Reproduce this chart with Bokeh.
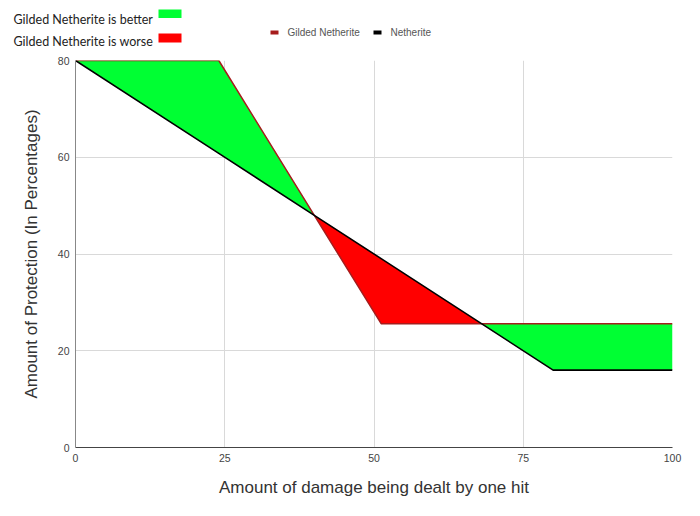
from bokeh.plotting import figure
from bokeh.layouts import column
from bokeh.models import Range1d, FixedTicker
from bokeh.core.properties import value
from bokeh.embed import file_html
from bokeh.resources import INLINE

# ---- data ----
damage = [0, 24, 40, 51.2, 68, 80, 100]
gilded = [80, 80, 48, 25.6, 25.6, 25.6, 25.6]
netherite = [80, 60.8, 48, 39.04, 25.6, 16, 16]
x_ticks = [0, 25, 50, 75, 100]
y_ticks = [0, 20, 40, 60, 80]
series_names = ["Gilded Netherite", "Netherite"]
notes = ["Gilded Netherite is better", "Gilded Netherite is worse"]
x_title = "Amount of damage being dealt by one hit"
y_title = "Amount of Protection (In Percentages)"

GREEN = "#00ff33"
RED = "#ff0000"
GILDED_COL = "#a61c1c"
NETH_COL = "#000000"
FONT = "Liberation Sans"
W = 684

# ---------------- header strip (notes + series key) ----------------
top = figure(width=W, height=52, output_backend="svg", toolbar_location=None,
             x_range=Range1d(0, W), y_range=Range1d(52, 0),
             min_border=0, min_border_left=0, min_border_right=0,
             min_border_top=0, min_border_bottom=0,
             x_axis_location=None, y_axis_location=None, frame_align=False)
top.outline_line_color = None
top.grid.visible = False
top.border_fill_color = "white"

note_y = [18.5, 41]
note_cols = [GREEN, RED]
top.text(x=[13, 13], y=note_y, text=notes, text_font=value("Lato"),
         text_font_size="12.5px", text_color="#222222", text_baseline="alphabetic")
top.quad(left=[158, 158], right=[181, 181], top=[9, 33], bottom=[17.5, 42],
         fill_color=note_cols, line_color=None)

key_x = [270, 373]
key_cols = [GILDED_COL, NETH_COL]
top.quad(left=key_x, right=[k + 8 for k in key_x], top=[30, 30], bottom=[34, 34],
         fill_color=key_cols, line_color=None)
top.text(x=[287, 390], y=[32, 32], text=series_names, text_font=value(FONT),
         text_font_size="10px", text_color="#555555", text_baseline="middle")

# ---------------- main chart ----------------
p = figure(width=W, height=448, output_backend="svg", toolbar_location=None,
           x_range=Range1d(0, 100), y_range=Range1d(0, 80), frame_align=False,
           min_border_left=75, min_border_right=12, min_border_top=8, min_border_bottom=53)
p.outline_line_color = None
p.background_fill_color = "white"
p.border_fill_color = "white"

seg_better1 = slice(0, 3)
seg_worse = slice(2, 5)
seg_better2 = slice(4, 7)
for seg, col in [(seg_better1, GREEN), (seg_worse, RED), (seg_better2, GREEN)]:
    p.varea(x=damage[seg], y1=netherite[seg], y2=gilded[seg], fill_color=col, fill_alpha=1)

p.line(damage, gilded, line_color=GILDED_COL, line_width=1.5)
p.line(damage, netherite, line_color=NETH_COL, line_width=1.6)

for ax in (p.xaxis, p.yaxis):
    ax.major_tick_line_color = None
    ax.minor_tick_line_color = None
    ax.major_tick_out = 0
    ax.major_tick_in = 0
    ax.minor_tick_out = 0
    ax.major_label_text_font = FONT
    ax.major_label_text_font_size = "10.5px"
    ax.major_label_text_color = "#444444"
    ax.axis_label_text_font = FONT
    ax.axis_label_text_font_size = "17px"
    ax.axis_label_text_font_style = "normal"
    ax.axis_label_text_color = "#333333"
p.xaxis.ticker = FixedTicker(ticks=x_ticks)
p.yaxis.ticker = FixedTicker(ticks=y_ticks)
p.xaxis.axis_label = x_title
p.yaxis.axis_label = y_title
p.xaxis.axis_line_color = "#444444"
p.yaxis.axis_line_color = "#888888"
p.xaxis.major_label_standoff = 6
p.yaxis.major_label_standoff = 6
p.xaxis.axis_label_standoff = 13
p.yaxis.axis_label_standoff = 14
p.grid.grid_line_color = "#d9d9d9"
p.grid.grid_line_width = 1

layout = column(top, p, spacing=0)
open("out.html", "w").write(file_html(layout, INLINE))
